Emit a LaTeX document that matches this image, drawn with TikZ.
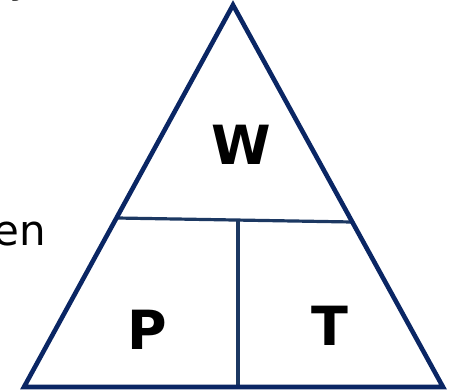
\documentclass[tikz,border=0pt]{standalone}
\usepackage{fontspec}
\setmainfont{DejaVu Sans}
\definecolor{navy}{RGB}{10,38,100}
\definecolor{navyline}{RGB}{28,56,98}
\begin{document}
\begin{tikzpicture}[x=1pt,y=-1pt,
  outline/.style={draw=navy,line width=4.6pt,line join=miter},
  divider/.style={draw=navyline,line width=3.2pt},
  letter/.style={font=\fontsize{54}{54}\selectfont\bfseries,text=black,inner sep=0pt},
  sidetext/.style={font=\fontsize{42}{42}\selectfont,text=black,inner sep=0pt}]
\useasboundingbox (0,0) rectangle (452,390);
\coordinate (top) at (233,5);
\coordinate (bl) at (24,387);
\coordinate (br) at (443,387);
\coordinate (hl) at (117,218);
\coordinate (hr) at (352,222);
\coordinate (vt) at (238,221);
\coordinate (vb) at (238,387);
\draw[divider] (hl) -- (hr);
\draw[divider] (vt) -- (vb);
\draw[outline] (top) -- (bl) -- (br) -- cycle;
\node[letter] (W) at (241.5,145) {W};
\node[letter] (P) at (147.5,329.5) {P};
\node[letter] (T) at (329.5,326) {T};
\node[sidetext,anchor=base east] (en) at (46,245) {en};
\node[sidetext,anchor=base] (y) at (22,-7.5) {y};
\end{tikzpicture}
\end{document}
